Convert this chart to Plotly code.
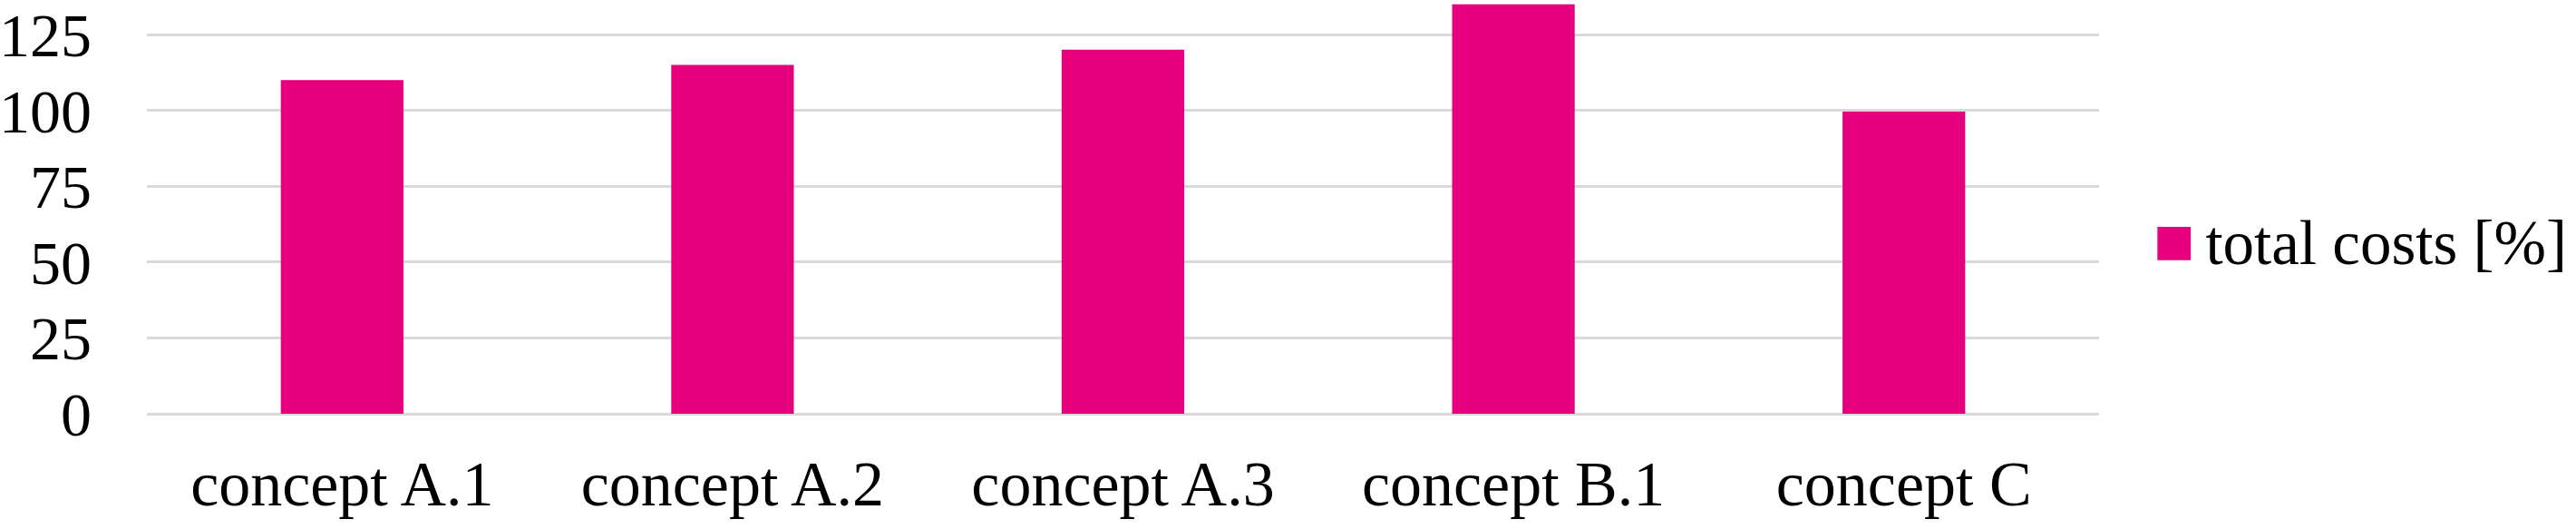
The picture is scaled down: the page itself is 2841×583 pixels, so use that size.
import plotly.graph_objects as go

# data
concepts = ['concept A.1', 'concept A.2', 'concept A.3', 'concept B.1', 'concept C']
total_costs = [110, 115, 120, 135, 99.6]
series_name = 'total costs [%]'
y_ticks = [0, 25, 50, 75, 100, 125]

pink = '#E6007E'
grid = '#D9D9D9'
font_name = 'Liberation Serif'

fig = go.Figure()
fig.add_trace(go.Bar(x=concepts, y=total_costs, name=series_name,
                     marker=dict(color=pink, line=dict(width=0)),
                     showlegend=False))

# legend drawn as text so the swatch can be as big as in the original
fig.add_annotation(text='<span style="color:%s;font-size:76px">\u25a0</span>\u2006%s' % (pink, series_name),
                   xref='paper', yref='paper', x=1.027, y=0.4185,
                   xanchor='left', yanchor='middle', showarrow=False,
                   font=dict(family=font_name, size=69, color='black'))

fig.update_layout(
    width=2841, height=583,
    margin=dict(l=162, r=526, t=0, b=127),
    paper_bgcolor='white', plot_bgcolor='white',
    bargap=0.686,
    font=dict(family=font_name, size=68, color='black'),
)
fig.update_xaxes(showgrid=False, showline=False, ticks='', tickfont=dict(size=70),
                 ticklabelstandoff=30)
fig.update_yaxes(range=[0, 136.4], tickvals=y_ticks, showgrid=True, gridcolor=grid,
                 gridwidth=3, zeroline=True, zerolinecolor=grid, zerolinewidth=3,
                 showline=False, ticks='', ticklabelstandoff=60, tickfont=dict(size=68))

# drop the browser's default page margin so the chart sits at the window corner
fig.write_html("out.html", config={'displayModeBar': False},
               post_script="document.body.style.margin='0';")
